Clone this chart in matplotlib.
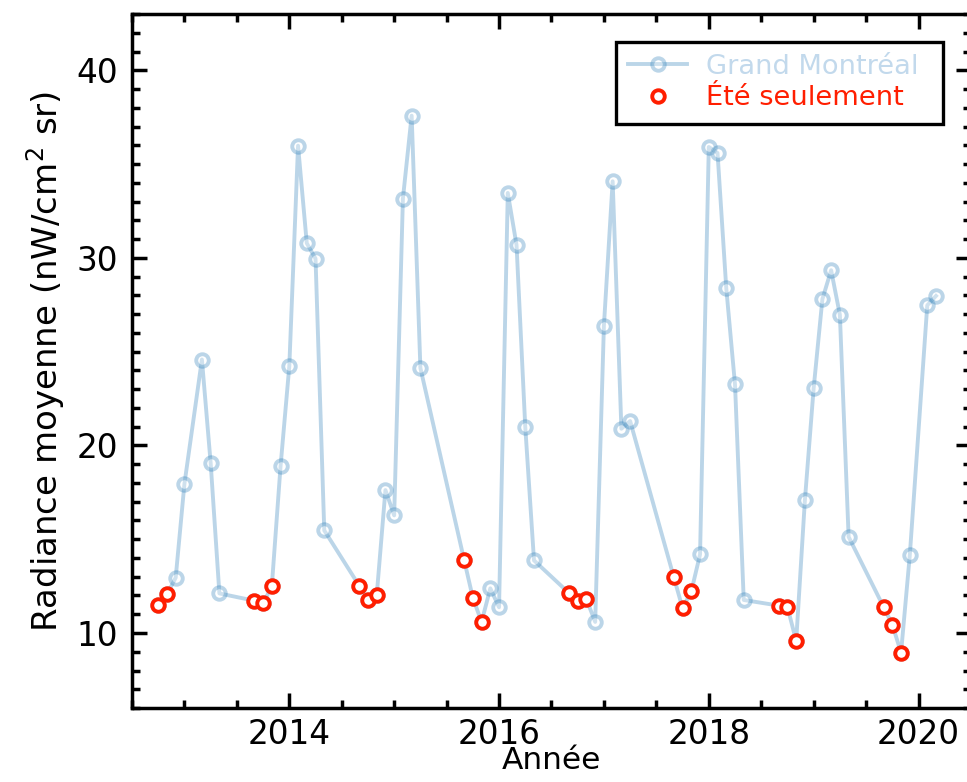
import numpy as np
import matplotlib
matplotlib.use('Agg')
import matplotlib.pyplot as plt
from matplotlib.ticker import MultipleLocator

# Radiance mensuelle moyenne, Grand Montréal
dates = ['2012-10', '2012-11', '2012-12', '2013-01', '2013-03', '2013-04', '2013-05',
         '2013-09', '2013-10', '2013-11', '2013-12', '2014-01', '2014-02', '2014-03',
         '2014-04', '2014-05', '2014-09', '2014-10', '2014-11', '2014-12', '2015-01',
         '2015-02', '2015-03', '2015-04', '2015-09', '2015-10', '2015-11', '2015-12',
         '2016-01', '2016-02', '2016-03', '2016-04', '2016-05', '2016-09', '2016-10',
         '2016-11', '2016-12', '2017-01', '2017-02', '2017-03', '2017-04', '2017-09',
         '2017-10', '2017-11', '2017-12', '2018-01', '2018-02', '2018-03', '2018-04',
         '2018-05', '2018-09', '2018-10', '2018-11', '2018-12', '2019-01', '2019-02',
         '2019-03', '2019-04', '2019-05', '2019-09', '2019-10', '2019-11', '2019-12',
         '2020-02', '2020-03']
radiance = [11.49, 12.06, 12.95, 17.95, 24.58, 19.07, 12.11,
            11.72, 11.58, 12.50, 18.90, 24.22, 35.98, 30.78,
            29.96, 15.47, 12.52, 11.78, 12.00, 17.62, 16.27,
            33.16, 37.58, 24.13, 13.90, 11.88, 10.59, 12.38,
            11.37, 33.46, 30.69, 20.99, 13.87, 12.13, 11.70,
            11.80, 10.59, 26.39, 34.08, 20.89, 21.30, 12.97,
            11.32, 12.22, 14.19, 35.91, 35.59, 28.38, 23.25,
            11.76, 11.46, 11.39, 9.57, 17.10, 23.05, 27.80,
            29.34, 26.96, 15.13, 11.39, 10.45, 8.95, 14.14,
            27.47, 27.97]
summer_months = [9, 10, 11]

yr = np.array([int(d[:4]) for d in dates])
mo = np.array([int(d[5:]) for d in dates])
x = yr + (mo - 1) / 12
y = np.array(radiance)
ete = np.isin(mo, summer_months)

red = '#ff1e00'

fig = plt.figure(figsize=(9.67, 7.82), dpi=100)
ax = fig.add_axes([0.1365, 0.0946, 0.8676, 0.8875])

ax.plot(x, y, 'o-', color='C0', alpha=0.3, lw=2.8, ms=9, mew=2.8,
        mfc='white', label='Grand Montréal')
ax.plot(x[ete], y[ete], 'o', ls='none', color=red, ms=9, mew=2.8,
        mfc='white', label='Été seulement')

ax.set_xlim(2012.5, 2020.5)
ax.set_ylim(6, 43)
ax.xaxis.set_major_locator(MultipleLocator(2))
ax.xaxis.set_minor_locator(MultipleLocator(0.5))
ax.yaxis.set_major_locator(MultipleLocator(10))
ax.yaxis.set_minor_locator(MultipleLocator(1))
ax.tick_params(which='both', direction='in', top=True, right=True,
               width=2.5, labelsize=23.5)
ax.tick_params(which='major', length=11)
ax.tick_params(which='minor', length=6)
ax.tick_params(axis='x', pad=7)
ax.tick_params(axis='y', pad=10)
for s in ax.spines.values():
    s.set_linewidth(2.5)

ax.set_xlabel('Année', fontsize=22.5, labelpad=-3.5)
ax.set_ylabel('Radiance moyenne (nW/cm$^2$ sr)', fontsize=24.5, labelpad=7)

# légende étirée sur la largeur de la boîte d'origine
leg = ax.legend(loc='upper right', bbox_to_anchor=(0.577, 0.5, 0.3895, 0.46),
                mode='expand', borderaxespad=0, fontsize=19.6,
                fancybox=False, framealpha=1, edgecolor='black',
                handlelength=2.15, handletextpad=0.7, borderpad=0.45,
                labelspacing=0.2)
leg.get_frame().set_linewidth(2.4)
for t, c in zip(leg.get_texts(), ['#c2d9ec', red]):
    t.set_color(c)

plt.savefig('out.png', dpi=100)
